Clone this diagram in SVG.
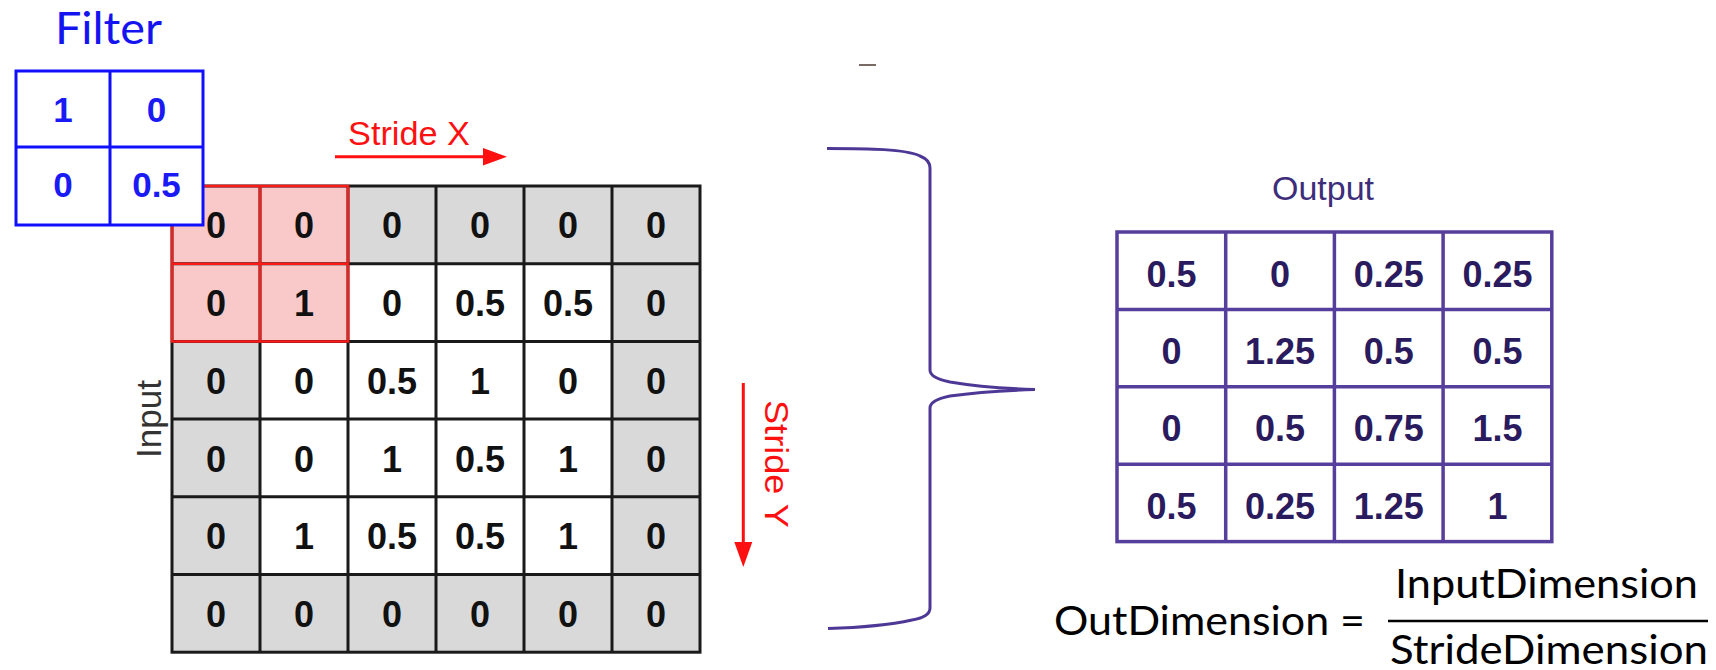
<svg xmlns="http://www.w3.org/2000/svg" width="1716" height="670" viewBox="0 0 1716 670">
  <style>
    .num { font-family: "Liberation Sans", Arial, sans-serif; font-weight: bold; font-size: 36px; text-anchor: middle; }
    .in-num { fill: #111111; }
    .flt-num { fill: #1a1af5; font-size: 35px; }
    .out-num { fill: #2a1a5e; font-size: 36px; }
    .grid-line { stroke: #1a1a1a; stroke-width: 3; fill: none; }
    .hl-line { stroke: #ff1a1a; stroke-width: 2.5; fill: none; }
    .flt-line { stroke: #1010ff; stroke-width: 3; }
    .out-line { stroke: #563f9c; stroke-width: 3.5; fill: none; }
    .red-label { font-family: "Liberation Sans", Arial, sans-serif; font-size: 33px; fill: #ff1010; }
    .calibri { font-family: Lato, "Open Sans", sans-serif; fill: #000000; }
  </style>

  <rect width="1716" height="670" fill="#ffffff"/>

  <!-- Padded 6x6 input grid -->
  <g id="input-grid">
    <rect x="172" y="186" width="528" height="466.2" fill="#d9d9d9"/>
    <rect x="260" y="263.7" width="352" height="310.8" fill="#ffffff"/>
    <rect x="172" y="186" width="176" height="155.4" fill="#f9c9c9"/>
    <rect class="grid-line" x="172" y="186" width="528" height="466.2"/>
    <path class="grid-line" d="M260,186V652.2M348,186V652.2M436,186V652.2M524,186V652.2M612,186V652.2M172,263.7H700M172,341.4H700M172,419.1H700M172,496.8H700M172,574.5H700"/>
    <path class="hl-line" d="M172,186H348V341.4H172ZM260,186V341.4M172,263.7H348"/>
    <g class="num in-num">
      <text x="216" y="238.4">0</text><text x="304" y="238.4">0</text><text x="392" y="238.4">0</text><text x="480" y="238.4">0</text><text x="568" y="238.4">0</text><text x="656" y="238.4">0</text>
      <text x="216" y="316">0</text><text x="304" y="316">1</text><text x="392" y="316">0</text><text x="480" y="316">0.5</text><text x="568" y="316">0.5</text><text x="656" y="316">0</text>
      <text x="216" y="393.8">0</text><text x="304" y="393.8">0</text><text x="392" y="393.8">0.5</text><text x="480" y="393.8">1</text><text x="568" y="393.8">0</text><text x="656" y="393.8">0</text>
      <text x="216" y="471.5">0</text><text x="304" y="471.5">0</text><text x="392" y="471.5">1</text><text x="480" y="471.5">0.5</text><text x="568" y="471.5">1</text><text x="656" y="471.5">0</text>
      <text x="216" y="549.2">0</text><text x="304" y="549.2">1</text><text x="392" y="549.2">0.5</text><text x="480" y="549.2">0.5</text><text x="568" y="549.2">1</text><text x="656" y="549.2">0</text>
      <text x="216" y="626.9">0</text><text x="304" y="626.9">0</text><text x="392" y="626.9">0</text><text x="480" y="626.9">0</text><text x="568" y="626.9">0</text><text x="656" y="626.9">0</text>
    </g>
    <text transform="translate(161,419) rotate(-90)" text-anchor="middle" font-family="Liberation Sans, Arial, sans-serif" font-size="35" fill="#333333" textLength="78" lengthAdjust="spacingAndGlyphs">Input</text>
  </g>

  <!-- 2x2 filter kernel -->
  <g id="filter">
    <text x="55" y="44" class="calibri" font-size="45" style="fill:#1414f0" textLength="107" lengthAdjust="spacingAndGlyphs">Filter</text>
    <rect x="16" y="71" width="187" height="154" fill="#ffffff" class="flt-line"/>
    <path class="flt-line" d="M110,71V225M16,147H203"/>
    <g class="num flt-num">
      <text x="63" y="121.5">1</text><text x="156.5" y="121.5">0</text>
      <text x="63" y="197">0</text><text x="156.5" y="197">0.5</text>
    </g>
  </g>

  <!-- 4x4 output grid -->
  <g id="output-grid">
    <text x="1323" y="200" text-anchor="middle" font-family="Liberation Sans, Arial, sans-serif" font-size="34" fill="#3d2d7a">Output</text>
    <rect class="out-line" x="1117" y="232" width="434.8" height="309.6"/>
    <path class="out-line" d="M1225.7,232V541.6M1334.4,232V541.6M1443.1,232V541.6M1117,309.4H1551.8M1117,386.8H1551.8M1117,464.2H1551.8"/>
    <g class="num out-num">
      <text x="1171.4" y="286.5">0.5</text><text x="1280" y="286.5">0</text><text x="1388.8" y="286.5">0.25</text><text x="1497.5" y="286.5">0.25</text>
      <text x="1171.4" y="363.9">0</text><text x="1280" y="363.9">1.25</text><text x="1388.8" y="363.9">0.5</text><text x="1497.5" y="363.9">0.5</text>
      <text x="1171.4" y="441.3">0</text><text x="1280" y="441.3">0.5</text><text x="1388.8" y="441.3">0.75</text><text x="1497.5" y="441.3">1.5</text>
      <text x="1171.4" y="518.7">0.5</text><text x="1280" y="518.7">0.25</text><text x="1388.8" y="518.7">1.25</text><text x="1497.5" y="518.7">1</text>
    </g>
  </g>

  <!-- Size formula -->
  <g id="formula">
    <text x="1054" y="635" class="calibri" font-size="41" textLength="311" lengthAdjust="spacingAndGlyphs">OutDimension =</text>
    <text x="1395" y="598" class="calibri" font-size="40" textLength="303" lengthAdjust="spacingAndGlyphs">InputDimension</text>
    <line x1="1388" y1="621" x2="1708" y2="621" stroke="#000000" stroke-width="2.5"/>
    <text x="1390" y="664" class="calibri" font-size="40" textLength="318" lengthAdjust="spacingAndGlyphs">StrideDimension</text>
  </g>

  <!-- Stride labels -->
  <g id="stride-labels">
    <text x="348" y="145" class="red-label" textLength="122" lengthAdjust="spacingAndGlyphs">Stride X</text>
    <text transform="translate(765,464) rotate(90)" text-anchor="middle" class="red-label" font-size="34" textLength="128" lengthAdjust="spacingAndGlyphs">Stride Y</text>
  </g>

  <!-- Connectors: stride arrows and the brace joining input to output -->
  <g id="connectors">
    <line x1="335" y1="156.7" x2="484" y2="156.7" stroke="#ff1010" stroke-width="3"/>
    <polygon points="483,148 507,156.7 483,165.4" fill="#ff1010"/>
    <line x1="743.3" y1="383" x2="743.3" y2="543" stroke="#ff1010" stroke-width="3"/>
    <polygon points="734.3,542 752.3,542 743.3,567" fill="#ff1010"/>
    <path d="M827,148.5 C870,148.5 905,149 920,156 Q930,160 930,168 L930,370 Q930,378 950,382 Q985,388 1035,389.5 Q985,391 950,396 Q930,400 930,408 L930,608 Q930,617 912,620 Q880,627 828,628.5" fill="none" stroke="#4e3896" stroke-width="3"/>
    <line x1="859" y1="65" x2="876" y2="65" stroke="#7a6a66" stroke-width="2"/>
  </g>
</svg>
